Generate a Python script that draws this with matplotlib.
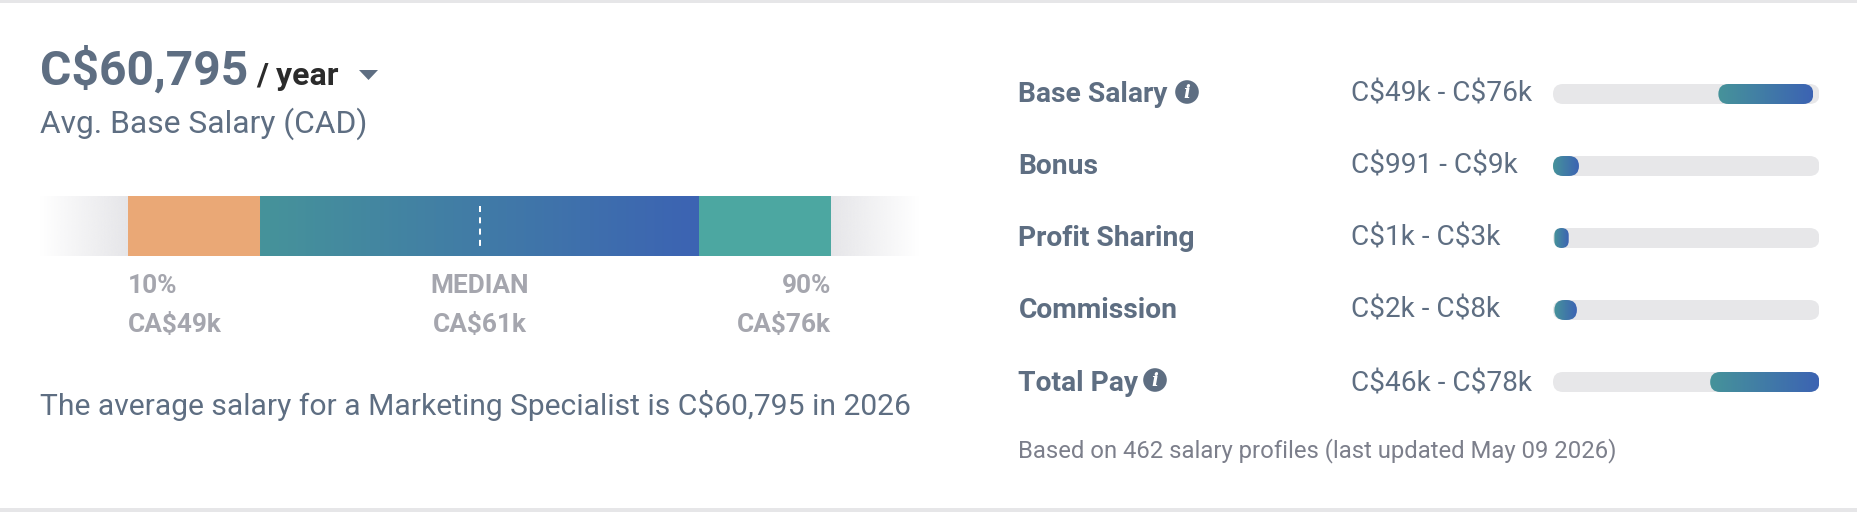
import numpy as np
import matplotlib
matplotlib.use("Agg")
import matplotlib.pyplot as plt
from matplotlib.colors import LinearSegmentedColormap, to_rgb
from matplotlib.patches import FancyBboxPatch, Rectangle, Polygon, Circle

plt.rcParams['font.family'] = ['Roboto', 'DejaVu Sans']
plt.rcParams['text.parse_math'] = False

# ---- data ----
HEADLINE = "C$60,795"
PERIOD = "/ year"
SUBTITLE = "Avg. Base Salary (CAD)"
SENTENCE = "The average salary for a Marketing Specialist is C$60,795 in 2026"
FOOTNOTE = "Based on 462 salary profiles (last updated May 09 2026)"

percentiles = [10, 25, 75, 90]          # segment edges on the percentile scale
median_pct = 50
pct_labels = ["10%", "MEDIAN", "90%"]
pct_values = ["CA$49k", "CA$61k", "CA$76k"]

pay_names = ["Base Salary", "Bonus", "Profit Sharing", "Commission", "Total Pay"]
pay_ranges = ["C$49k - C$76k", "C$991 - C$9k", "C$1k - C$3k", "C$2k - C$8k", "C$46k - C$78k"]
pay_low = [48.4, 0.0, 0.4, 0.4, 46.0]    # C$k, as drawn
pay_high = [76.2, 7.6, 4.6, 7.0, 78.0]
pay_info = [True, False, False, False, True]
pay_max = 78.0

# ---- styles ----
W, H = 1858, 512
SLATE = "#5e6e82"
GREY = "#a5a6ae"
FOOT = "#7c7f8b"
TRACK = "#e7e7e9"
ORANGE = "#eaa876"
TEAL = "#4ca7a1"
G0, G1 = "#46939a", "#3c63b3"
grad = LinearSegmentedColormap.from_list("g", [G0, G1])
GX = np.linspace(0, 1, 256).reshape(1, -1)
PT = 0.72  # px -> pt at dpi 100

fig = plt.figure(figsize=(W / 100, H / 100), dpi=100, facecolor="white")


def px_axes(x0, y0, x1, y1, **kw):
    ax = fig.add_axes([x0 / W, 1 - y1 / H, (x1 - x0) / W, (y1 - y0) / H], **kw)
    ax.set_axis_off()
    ax.patch.set_alpha(0)
    return ax


# page layer in pixels (text and furniture)
page = px_axes(0, 0, W, H)
page.set_xlim(0, W)
page.set_ylim(H, 0)
page.add_patch(Rectangle((0, 0), W, 2.5, fc="#e6e6e8", ec="none"))
page.add_patch(Rectangle((0, 508), W, 4, fc="#e6e6e8", ec="none"))


def txt(x, y, s, size, color=SLATE, weight="normal", ha="left", **kw):
    return page.text(x, y, s, fontsize=size * PT, color=color, fontweight=weight,
                     ha=ha, va="baseline", **kw)


txt(40, 85, HEADLINE, 48, weight="bold")
txt(256, 85, PERIOD, 32, color="#2b2b2b", weight="bold")
page.add_patch(Polygon([(359, 70), (378, 70), (368.5, 80)], closed=True, fc=SLATE, ec="none"))
txt(40, 133, SUBTITLE, 31.8)
txt(40, 415, SENTENCE, 30)

# salary range band: x is the percentile scale
band = px_axes(40.5, 196, 919, 256)
band.set_xlim(0, 100)
band.set_ylim(0, 1)
for (a, b, flip) in [(0, percentiles[0], False), (percentiles[-1], 100, True)]:
    rgba = np.ones((1, 256, 4))
    rgba[..., :3] = to_rgb("#e6e6e9")
    ramp = np.linspace(0, 1, 256)
    rgba[0, :, 3] = ramp[::-1] if flip else ramp
    band.imshow(rgba, extent=(a, b, 0, 1), aspect="auto", interpolation="bilinear", zorder=1)
band.barh(0.5, percentiles[1] - percentiles[0], left=percentiles[0], height=1, color=ORANGE, zorder=2)
band.imshow(GX, extent=(percentiles[1], percentiles[2], 0, 1), aspect="auto", cmap=grad, zorder=2)
band.barh(0.5, percentiles[3] - percentiles[2], left=percentiles[2], height=1, color=TEAL, zorder=2)
band.plot([median_pct, median_pct], [5 / 6, 1 / 6], color="white", lw=1.44, dashes=(3, 2.65),
          dash_capstyle="butt", zorder=3)
band.set_xlim(0, 100)
band.set_ylim(0, 1)

for s, v, x, ha in zip(pct_labels, pct_values, [128, 480, 831], ["left", "center", "right"]):
    txt(x, 293, s, 26.2, color=GREY, weight="bold", ha=ha)
    txt(x, 332, v, 26.2, color=GREY, weight="bold", ha=ha)

# pay components
TX0, TX1 = 1553, 1819.5
ROW0, ROWH, BARH = 94, 72, 20
n = len(pay_names)
pay = px_axes(TX0, ROW0 - 36, TX1, ROW0 + ROWH * (n - 1) + 36)
pay.set_xlim(0, pay_max)
pay.set_ylim(n - 0.5, -0.5)
xu = pay_max / (TX1 - TX0)   # x units per pixel
yu = 1 / ROWH                # y units per pixel


def pill(x0, x1, row, **kw):
    w_px = (x1 - x0) / xu
    r = min(BARH / 2, w_px / 2) * xu
    pad_h = BARH * yu
    return FancyBboxPatch((x0, row - pad_h / 2), x1 - x0, pad_h,
                          boxstyle=f"round,pad=0,rounding_size={r}",
                          mutation_aspect=yu / xu, **kw)


for i in range(n):
    pay.add_patch(pill(0, pay_max, i, fc=TRACK, ec="none", zorder=1))
    shape = pill(pay_low[i], pay_high[i], i, fc="none", ec="none", zorder=2)
    pay.add_patch(shape)
    im = pay.imshow(GX, extent=(pay_low[i], pay_high[i], i + BARH * yu / 2, i - BARH * yu / 2),
                    aspect="auto", cmap=grad, zorder=2)
    im.set_clip_path(shape)
pay.set_xlim(0, pay_max)
pay.set_ylim(n - 0.5, -0.5)

NAME_X, RANGE_X = 1018.5, 1351
ICON_X = {0: 1187, 4: 1155}
BASES = [102, 174, 246, 318, 391]
ICON_Y = {0: 92, 4: 380}
for i in range(n):
    base = BASES[i]
    txt(NAME_X, base, pay_names[i], 28.2, weight="bold")
    txt(RANGE_X, base, pay_ranges[i], 28)
    if pay_info[i]:
        cy = ICON_Y[i]
        page.add_patch(Circle((ICON_X[i], cy), 11.8, fc=SLATE, ec="none"))
        page.text(ICON_X[i], cy + 0.5, "i", fontsize=18 * PT, color="white", fontweight="bold",
                  fontstyle="italic", ha="center", va="center", family="DejaVu Serif")

txt(NAME_X, 457, FOOTNOTE, 23.9, color=FOOT)

fig.savefig("out.png", dpi=100, facecolor="white")
